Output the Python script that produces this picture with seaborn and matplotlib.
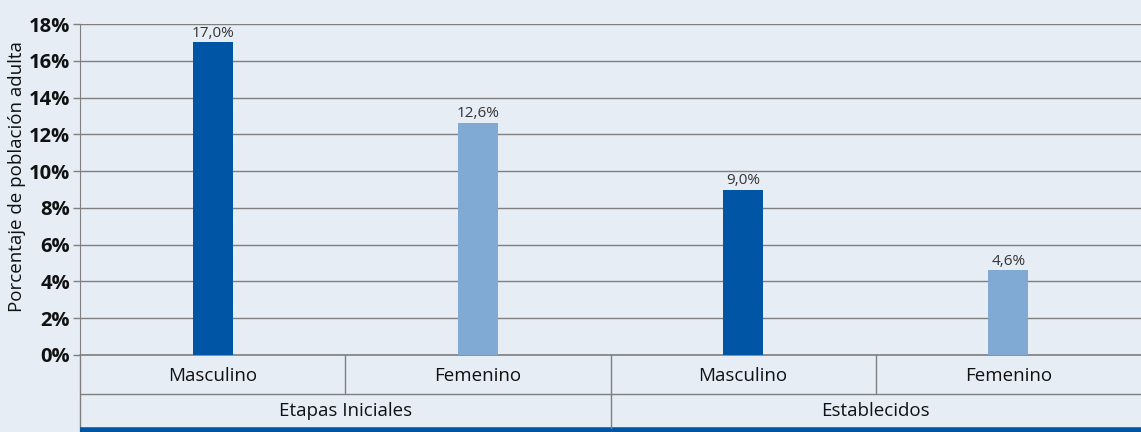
import pandas as pd
import seaborn as sns
import matplotlib.pyplot as plt
import matplotlib.transforms as mtransforms

# data
grupos = ['Etapas Iniciales', 'Etapas Iniciales', 'Establecidos', 'Establecidos']
sexo = ['Masculino', 'Femenino', 'Masculino', 'Femenino']
valores = [17.0, 12.6, 9.0, 4.6]
yticks = [0, 2, 4, 6, 8, 10, 12, 14, 16, 18]

bg = '#E6EDF5'
grid_c = '#7F7F7F'
colores = {'Masculino': '#0055A4', 'Femenino': '#80A9D3'}

sns.set_style('white')
plt.rcParams['font.family'] = ['Open Sans', 'DejaVu Sans']

df = pd.DataFrame({'grupo': grupos, 'sexo': sexo, 'valor': valores})
df['clave'] = df['grupo'] + ' - ' + df['sexo']

fig = plt.figure(figsize=(11.41, 4.32), dpi=100, facecolor=bg)
ax = fig.add_axes([80 / 1141, 1 - 355 / 432, 1 - 80 / 1141, 331 / 432])
ax.set_facecolor(bg)

sns.barplot(data=df, x='clave', y='valor', hue='sexo', palette=colores,
            dodge=False, width=0.15, saturation=1, linewidth=0,
            legend=False, ax=ax, zorder=3)

ax.set_ylim(0, 18)
ax.set_xlim(-0.5, 3.5)
ax.set_yticks(yticks)
ax.set_yticklabels([f'{t}%' for t in yticks], fontsize=14.5, fontweight='bold', color='#111111')
ax.tick_params(axis='y', length=5, width=1, color=grid_c, pad=2, left=True)
ax.yaxis.grid(True, color=grid_c, lw=1)
ax.set_axisbelow(True)
for s in ['top', 'right', 'bottom']:
    ax.spines[s].set_visible(False)
ax.spines['left'].set_color(grid_c)
ax.spines['left'].set_bounds(0, 18)

ax.set_ylabel('Porcentaje de población adulta', fontsize=13.5, color='#111111')
ax.yaxis.set_label_coords(-0.051, 0.54)
ax.set_xlabel('')
ax.set_xticks([])

# value labels
for i, v in enumerate(valores):
    ax.text(i, v + 0.1, f'{v:.1f}%'.replace('.', ','), ha='center', va='bottom',
            fontsize=11, color='#333333')

# table under the axis
tr = mtransforms.blended_transform_factory(ax.transData, ax.transAxes)
tra = ax.transAxes
ax.plot([0, 0], [0, -0.235], transform=tra, color=grid_c, lw=1, clip_on=False)
ax.plot([0, 1], [0, 0], transform=tra, color=grid_c, lw=1.2, clip_on=False)
ax.plot([0, 1], [-0.118, -0.118], transform=tra, color=grid_c, lw=1, clip_on=False)
ax.plot([0, 1], [-0.227, -0.227], transform=tra, color='#0055A4', lw=4,
        solid_capstyle='butt', clip_on=False)
for xb in [0.5, 1.5, 2.5]:
    ax.plot([xb, xb], [0, -0.118], transform=tr, color=grid_c, lw=1, clip_on=False)
ax.plot([1.5, 1.5], [-0.118, -0.222], transform=tr, color=grid_c, lw=1, clip_on=False)

for i, s in enumerate(sexo):
    ax.text(i, -0.062, s, transform=tr, ha='center', va='center', fontsize=13.5, color='#111111')
for xc, g in [(0.5, 'Etapas Iniciales'), (2.5, 'Establecidos')]:
    ax.text(xc, -0.168, g, transform=tr, ha='center', va='center', fontsize=13.5, color='#111111')

fig.savefig('out.png', dpi=100, facecolor=bg)
